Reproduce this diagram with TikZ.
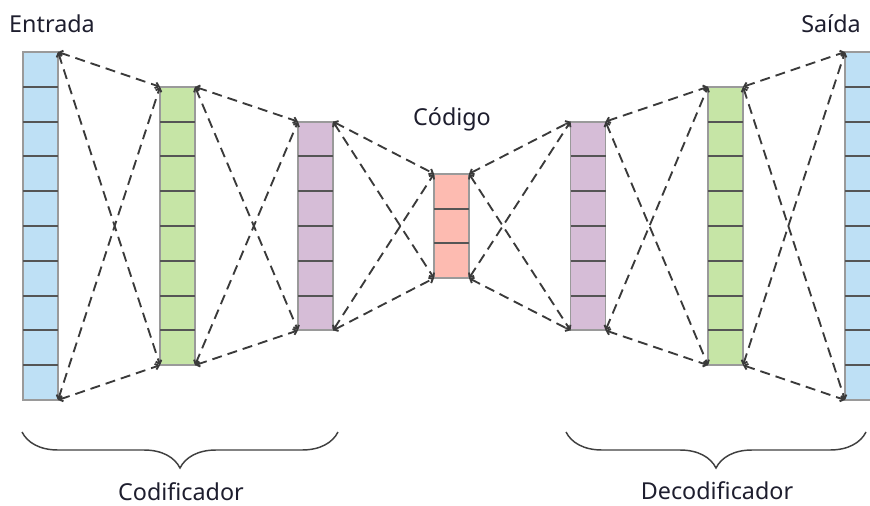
\documentclass[tikz,border=0pt]{standalone}
\usepackage{fontspec}
\setmainfont{Noto Sans}
\usetikzlibrary{arrows.meta,decorations.pathreplacing,calc}

\definecolor{inblue}{HTML}{BEE0F5}
\definecolor{hidgreen}{HTML}{C6E5A6}
\definecolor{hidpurple}{HTML}{D6BDD7}
\definecolor{codered}{HTML}{FDBBB1}
\definecolor{linkgray}{HTML}{3A3A3A}
\definecolor{rimgray}{HTML}{9A9A9A}
\definecolor{cellgray}{HTML}{555555}
\definecolor{labelink}{HTML}{1E1E2E}

\tikzset{
  layer/.style={draw=rimgray, line width=1.4pt, minimum width=26.25pt,
    inner sep=0pt, outer sep=0pt},
  link/.style={draw=linkgray, line width=1.4pt, dash pattern=on 7.5pt off 4.5pt,
    {Straight Barb[length=2.5pt,width=4.5pt]}-{Straight Barb[length=2.5pt,width=4.5pt]}},
  caption/.style={text=labelink, font=\fontsize{17.5}{20}\selectfont, inner sep=0pt},
  curly/.style={draw=black!75, line width=1.1pt, decorate,
    decoration={brace, mirror, amplitude=27pt}}
}

\begin{document}
\begin{tikzpicture}[x=0.75pt, y=-0.75pt]
  \clip (0,0) rectangle (870,506);

  % columns: name / x centre / number of cells / fill
  \foreach \name/\x/\n/\c in {in/40.5/10/inblue, e1/177.5/8/hidgreen,
      e2/315.5/6/hidpurple, z/451.5/3/codered, d2/588/6/hidpurple,
      d1/725.5/8/hidgreen, out/862.5/10/inblue}{
    \node[layer, fill=\c, minimum height=\n*26.1pt] (\name) at (\x,226) {};
    \pgfmathtruncatemacro\m{\n-1}
    \foreach \k in {1,...,\m}
      \draw[cellgray, line width=1.4pt]
        ($(\name.north west)!\k/\n!(\name.south west)$) --
        ($(\name.north east)!\k/\n!(\name.south east)$);
  }

  % dashed links between neighbouring columns, corner to corner
  \foreach \a/\b in {in/e1, e1/e2, e2/z, z/d2, d2/d1, d1/out}{
    \draw[link] (\a.north east) -- (\b.north west);
    \draw[link] (\a.north east) -- (\b.south west);
    \draw[link] (\a.south east) -- (\b.north west);
    \draw[link] (\a.south east) -- (\b.south west);
  }

  \node[caption] (inlbl) at (52,24) {Entrada};
  \node[caption] (outlbl) at (831,24) {Saída};
  \node[caption] (zlbl) at (452,119) {Código};

  % braces under each half
  \draw[curly] (22,432) -- (338,432);
  \draw[curly] (566,432) -- (866,432);
  \node[caption] (enclbl) at (181,492) {Codificador};
  \node[caption] (declbl) at (717,491) {Decodificador};
\end{tikzpicture}
\end{document}
